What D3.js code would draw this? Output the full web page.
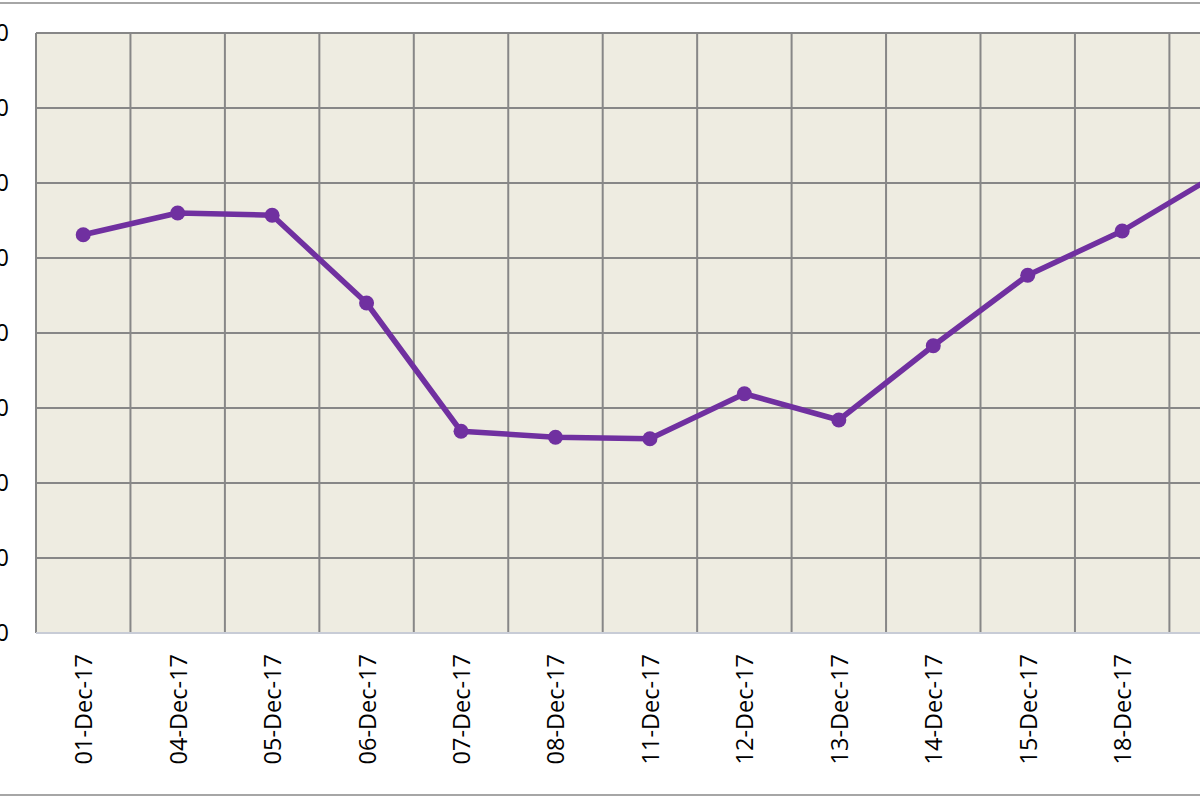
<!DOCTYPE html>
<html><head><meta charset="utf-8">
<script src="https://cdn.jsdelivr.net/npm/d3@7"></script>
<style>html,body{margin:0;padding:0;background:#fff;overflow:hidden}svg{display:block}</style>
</head><body>
<script>
const categories = ["01-Dec-17","04-Dec-17","05-Dec-17","06-Dec-17","07-Dec-17","08-Dec-17","11-Dec-17","12-Dec-17","13-Dec-17","14-Dec-17","15-Dec-17","18-Dec-17","19-Dec-17","20-Dec-17"];
const values = [53.1,56.0,55.7,44.0,26.9,26.1,25.9,31.9,28.4,38.3,47.7,53.6,61.1,null];
const yTicks = [0,10,20,30,40,50,60,70,80];

(function(){
const W = 1200, H = 800;
const svg = d3.select("body").append("svg").attr("width", W).attr("height", H);
const pLeft = 36, pTop = 33, pBottom = 633, step = 94.45;
const x = d3.scaleBand().domain(categories).range([pLeft, pLeft + step*categories.length]).paddingInner(0).paddingOuter(0);
const y = d3.scaleLinear().domain([0,80]).range([pBottom, pTop]);

// outer chart border
svg.append("rect").attr("x",-10).attr("y",3).attr("width",W+20).attr("height",792)
  .attr("fill","#fff").attr("stroke","#a6a6a6").attr("stroke-width",2);

// plot area
svg.append("rect").attr("x",pLeft).attr("y",pTop).attr("width",x.range()[1]-pLeft).attr("height",pBottom-pTop)
  .attr("fill","#eeece1");

const grid = svg.append("g").attr("stroke","#878787").attr("stroke-width",2);
grid.selectAll("line.h").data(yTicks.slice(1)).join("line").attr("class","h")
  .attr("x1",pLeft).attr("x2",x.range()[1]).attr("y1",d=>y(d)).attr("y2",d=>y(d));
grid.selectAll("line.v").data(categories).join("line").attr("class","v")
  .attr("x1",d=>x(d)).attr("x2",d=>x(d)).attr("y1",pTop).attr("y2",pBottom);
// bottom axis line
svg.append("line").attr("x1",pLeft).attr("x2",x.range()[1]).attr("y1",pBottom).attr("y2",pBottom)
  .attr("stroke","#c8ccd6").attr("stroke-width",2);

// y labels
svg.append("g").selectAll("text").data(yTicks).join("text")
  .attr("x",9).attr("y",d=>y(d)).attr("dy","0.36em").attr("text-anchor","end")
  .attr("font-family","Open Sans, sans-serif").attr("font-size",23).attr("fill","#000")
  .text(d=>d);

// x labels
svg.append("g").selectAll("text").data(categories).join("text")
  .attr("transform",d=>`translate(${x(d)+x.bandwidth()/2+9},654) rotate(-90)`)
  .attr("text-anchor","end")
  .attr("font-family","Open Sans, sans-serif").attr("font-size",23.5).attr("fill","#000")
  .text(d=>d);

// line
const pts = categories.map((c,i)=>({c, v: values[i]})).filter(d=>d.v!=null);
const line = d3.line().x(d=>x(d.c)+x.bandwidth()/2).y(d=>y(d.v));
svg.append("path").datum(pts).attr("d",line).attr("fill","none")
  .attr("stroke","#7030a0").attr("stroke-width",5.5).attr("stroke-linejoin","round");
svg.append("g").selectAll("circle").data(pts).join("circle")
  .attr("cx",d=>x(d.c)+x.bandwidth()/2).attr("cy",d=>y(d.v)).attr("r",7.5)
  .attr("fill","#7030a0");
})();
</script>
</body></html>
